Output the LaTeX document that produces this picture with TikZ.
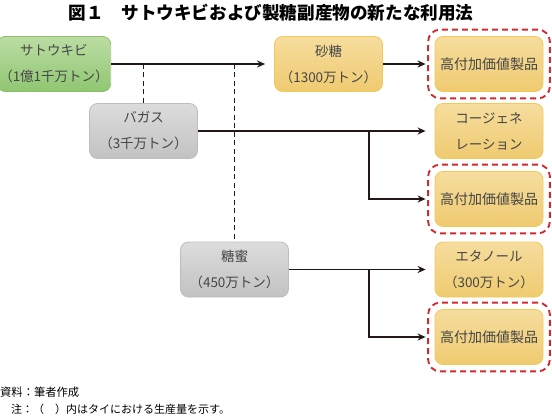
\documentclass[tikz,border=0pt]{standalone}
\usepackage{fontspec}
\setmainfont{Noto Sans CJK JP}
\usetikzlibrary{arrows.meta,fit}
\definecolor{greentop}{HTML}{BBDDA3}
\definecolor{greenbot}{HTML}{8FC671}
\definecolor{greenline}{HTML}{8CBF68}
\definecolor{graytop}{HTML}{DCDCDC}
\definecolor{graybot}{HTML}{C2C2C2}
\definecolor{grayline}{HTML}{BDBDBD}
\definecolor{yeltop}{HTML}{F6DD9E}
\definecolor{yelbot}{HTML}{EFCB70}
\definecolor{yelline}{HTML}{F1CA58}
\definecolor{framered}{HTML}{D22A2F}
\definecolor{inkgray}{HTML}{454545}
\definecolor{linedark}{HTML}{231815}
\begin{document}
\begin{tikzpicture}
  [x=1pt,y=-1pt,
   box/.style={rounded corners=8pt,minimum width=108pt,minimum height=55pt,
     align=center,text=inkgray,line width=.8pt,inner sep=2pt,
     font=\fontsize{13.5}{26}\selectfont},
   cane/.style={box,draw=greenline,top color=greentop,bottom color=greenbot},
   byprod/.style={box,draw=grayline,top color=graytop,bottom color=graybot},
   use/.style={box,draw=yelline,top color=yeltop,bottom color=yelbot},
   frame/.style={draw=framered,line width=1.9pt,dash pattern=on 6pt off 4pt,
     rounded corners=12pt,inner xsep=6.5pt,inner ysep=6.5pt},
   arrow/.style={draw=linedark,line width=1.8pt,-{Stealth[length=8pt,width=7pt]},shorten >=9pt},
   link/.style={draw=linedark,line width=1.8pt,dash pattern=on 5pt off 3.5pt}]
  \useasboundingbox (0,0) rectangle (552,417);

  \node (title) at (271,13) {\bfseries\fontsize{17.6}{17.6}\selectfont 図１\quad サトウキビおよび製糖副産物の新たな利用法};

  \node[cane] (sc) at (54,64) {サトウキビ\\（1億1千万トン）};
  \node[use] (sugar) at (328.5,64) {砂糖\\（1300万トン）};
  \node[use] (hv1) at (489,64) {\fontsize{14}{16}\selectfont 高付加価値製品};
  \node[byprod] (bag) at (143.5,131) {バガス\\（3千万トン）};
  \node[use] (cogen) at (489,131) {コージェネ\\レーション};
  \node[use] (hv2) at (489,199) {\fontsize{14}{16}\selectfont 高付加価値製品};
  \node[byprod] (mol) at (234.5,269.5) {糖蜜\\（450万トン）};
  \node[use] (eth) at (489,269.5) {エタノール\\（300万トン）};
  \node[use] (hv3) at (489,337) {\fontsize{14}{16}\selectfont 高付加価値製品};

  \foreach \n in {hv1,hv2,hv3}
    \node[frame,fit=(\n)] (f\n) {};

  \coordinate (j1) at (sc.east -| bag.north);
  \coordinate (j2) at (sc.east -| mol.north);
  \coordinate (b1) at (369,131);
  \coordinate (b2) at (369,269.5);

  \foreach \from/\to in {sc/sugar,sugar/hv1,bag/cogen,mol/eth}
    \draw[arrow] (\from) -- (\to);
  \draw[arrow] (b1) |- (hv2);
  \draw[arrow] (b2) |- (hv3);

  \draw[link] (j1) -- (bag.north);
  \draw[link] (j2) -- (mol.north);

  \node[anchor=west,inner sep=0pt,font=\fontsize{11.3}{11}\selectfont] (src) at (0,392) {資料：筆者作成};
  \node[anchor=west,inner sep=0pt,font=\fontsize{11}{11}\selectfont] (note) at (0,409) {　注：（　）内はタイにおける生産量を示す。};
\end{tikzpicture}
\end{document}
